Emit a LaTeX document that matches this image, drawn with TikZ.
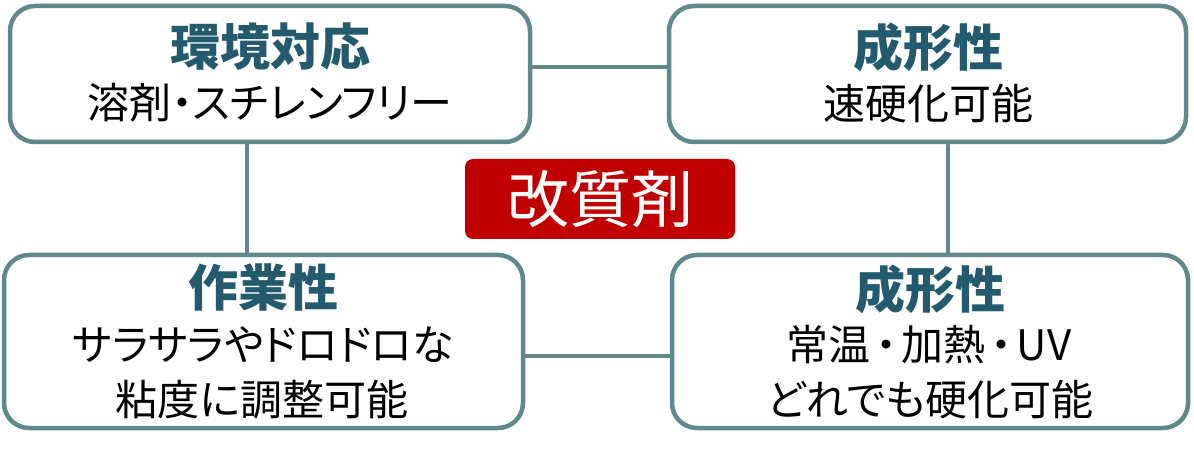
\documentclass[tikz,border=0pt]{standalone}
\usepackage{fontspec}
\setmainfont{Noto Sans CJK JP}[RawFeature=+palt]
\usetikzlibrary{calc}
\definecolor{frame}{HTML}{5F898C}
\definecolor{ttl}{HTML}{235A6E}
\definecolor{redbox}{HTML}{C00000}
\tikzset{
  card/.style={draw=frame, line width=4.5pt, rounded corners=25pt, fill=white, inner sep=0pt},
  link/.style={draw=frame, line width=4.5pt},
  ttltext/.style={text=ttl, font=\fontsize{50}{54}\selectfont\bfseries, inner sep=0pt},
  bodytext/.style={text=black, font=\fontsize{42}{46}\selectfont, inner sep=0pt},
  core/.style={fill=redbox, rounded corners=8pt, inner sep=0pt}
}
\begin{document}
\begin{tikzpicture}[x=1pt,y=-1pt]
\useasboundingbox (0,0) rectangle (1194,454);
% boxes
\node[card, minimum width=520pt, minimum height=136pt] (TL) at (270,74) {};
\node[card, minimum width=517pt, minimum height=136pt] (TR) at (927.5,74) {};
\node[card, minimum width=519pt, minimum height=173pt] (BL) at (263.5,341.5) {};
\node[card, minimum width=516pt, minimum height=173pt] (BR) at (930,341.5) {};
\node[core, minimum width=270pt, minimum height=80pt] (C) at (600,199) {};
% connectors
\draw[link] (TL.east |- 0,67) -- (TR.west |- 0,67);
\draw[link] (BL.east |- 0,356) -- (BR.west |- 0,356);
\draw[link] (TL.south -| 247,0) -- (BL.north -| 247,0);
\draw[link] (TR.south -| 948,0) -- (BR.north -| 948,0);
% texts
\node[ttltext] (tlT) at (270,47) {環境対応};
\node[bodytext] (tlB) at (270,103) {溶剤・スチレンフリー};
\node[ttltext] (trT) at (928,47) {成形性};
\node[bodytext] (trB) at (928,104) {速硬化可能};
\node[ttltext] (blT) at (263,287) {作業性};
\node[bodytext] (blB1) at (263,345) {サラサラやドロドロな};
\node[bodytext] (blB2) at (262,400) {粘度に調整可能};
\node[ttltext] (brT) at (930,289) {成形性};
\node[bodytext] (brB1) at (929,345) {常温\hspace{5pt}・\hspace{5pt}加熱\hspace{5pt}・\hspace{5pt}UV};
\node[bodytext] (brB2) at (930,400) {どれでも硬化可能};
\node[text=white, font=\fontsize{62}{66}\selectfont, inner sep=0pt] (cT) at (600,199.5) {改質剤};
\end{tikzpicture}
\end{document}
